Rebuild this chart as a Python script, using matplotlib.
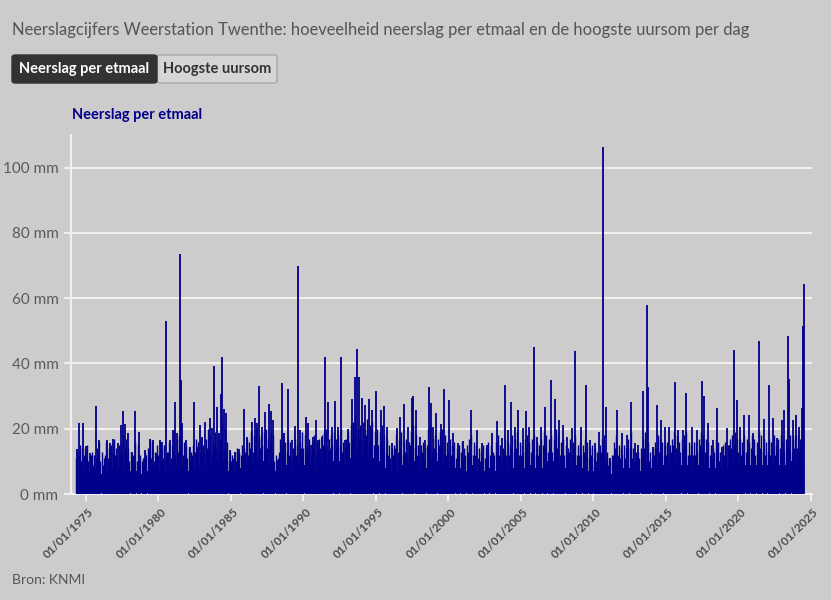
import numpy as np
import matplotlib
matplotlib.use("Agg")
import matplotlib.pyplot as plt
import matplotlib.dates as mdates
import matplotlib.transforms as mtransforms
from matplotlib.patches import FancyBboxPatch
from datetime import datetime, timedelta

# ---------------- data ----------------
# notable daily totals (decimal year, mm)
spike_years = [1974.40, 1974.54, 1974.77, 1975.00, 1975.28, 1975.67, 1975.92, 1976.43, 1976.66, 1976.89,
               1977.23, 1977.41, 1977.57, 1977.71, 1977.87, 1978.15, 1978.38, 1978.68, 1979.07, 1979.41,
               1979.64, 1979.87, 1980.10, 1980.22, 1980.52, 1980.79, 1981.02, 1981.16, 1981.30, 1981.48,
               1981.55, 1981.60, 1981.90, 1982.17, 1982.45, 1982.68, 1982.84, 1982.98, 1983.23, 1983.53,
               1983.67, 1983.85, 1984.01, 1984.15, 1984.31, 1984.38, 1984.52, 1984.66, 1984.93, 1985.28,
               1985.55, 1985.92, 1986.08, 1986.43, 1986.66, 1986.82, 1986.95, 1987.12, 1987.32, 1987.60,
               1987.76, 1987.92, 1988.15, 1988.50, 1988.68, 1988.95, 1989.18, 1989.41, 1989.62, 1989.76,
               1990.15, 1990.33, 1990.49, 1990.68, 1990.86, 1991.02, 1991.28, 1991.46, 1991.71, 1991.94,
               1992.17, 1992.40, 1992.59, 1992.86, 1993.09, 1993.37, 1993.55, 1993.71, 1993.80, 1994.01,
               1994.24, 1994.49, 1994.70, 1995.00, 1995.34, 1995.55, 1995.78, 1996.08, 1996.43, 1996.66,
               1996.95, 1997.23, 1997.46, 1997.57, 1997.76, 1998.03, 1998.38, 1998.68, 1998.77, 1998.95,
               1999.14, 1999.46, 1999.69, 2000.06, 2000.33, 2000.68, 2001.02, 2001.57, 2001.94, 2002.29,
               2002.63, 2002.98, 2003.32, 2003.67, 2003.92, 2004.13, 2004.33, 2004.59, 2004.82, 2005.12,
               2005.34, 2005.53, 2005.90, 2006.13, 2006.40, 2006.66, 2007.05, 2007.34, 2007.64, 2007.92,
               2008.19, 2008.49, 2008.72, 2009.14, 2009.48, 2009.76, 2010.10, 2010.40, 2010.63, 2010.84,
               2011.14, 2011.60, 2011.94, 2012.29, 2012.56, 2012.86, 2013.09, 2013.44, 2013.67, 2013.78,
               2014.13, 2014.36, 2014.63, 2014.93, 2015.23, 2015.60, 2015.85, 2016.19, 2016.38, 2016.79,
               2017.12, 2017.50, 2017.64, 2017.92, 2018.26, 2018.54, 2018.84, 2019.19, 2019.41, 2019.71,
               2019.87, 2020.10, 2020.38, 2020.70, 2021.02, 2021.44, 2021.76, 2022.08, 2022.40, 2022.68,
               2022.98, 2023.16, 2023.43, 2023.50, 2023.74, 2023.94, 2024.20, 2024.36, 2024.47, 2024.52]
spike_mm = [13.7, 21.9, 21.9, 14.7, 12.5, 27.1, 16.4, 16.4, 15.5, 16.8,
            15.5, 21.2, 25.5, 21.4, 18.6, 13.0, 25.5, 18.9, 13.5, 16.9,
            16.4, 12.5, 16.6, 15.8, 53.0, 16.4, 19.6, 28.2, 18.8, 73.5,
            35.0, 21.7, 16.6, 14.5, 28.2, 14.5, 21.2, 17.6, 22.2, 23.2,
            20.3, 39.3, 26.8, 18.6, 30.7, 42.1, 26.1, 24.8, 13.5, 13.0,
            13.7, 26.1, 17.6, 22.0, 23.2, 21.7, 33.1, 20.6, 25.0, 27.6,
            25.5, 22.7, 10.4, 34.0, 18.6, 32.1, 16.6, 20.8, 70.0, 19.6,
            23.5, 21.7, 15.0, 17.6, 22.7, 16.6, 17.4, 41.9, 28.2, 20.4,
            28.4, 20.6, 42.1, 16.6, 19.8, 29.0, 35.8, 44.4, 36.0, 29.5,
            27.3, 29.1, 25.8, 31.6, 25.8, 27.0, 20.6, 15.5, 20.1, 23.5,
            27.6, 20.6, 29.4, 30.1, 25.8, 17.6, 16.6, 32.9, 28.0, 20.6,
            24.8, 21.5, 32.1, 28.8, 18.6, 15.5, 16.1, 25.8, 19.6, 15.5,
            15.0, 18.8, 22.5, 17.1, 33.5, 19.6, 28.3, 20.6, 25.8, 20.1,
            25.5, 20.6, 45.0, 17.6, 20.6, 26.7, 35.0, 29.1, 22.7, 21.0,
            17.6, 20.3, 43.8, 20.6, 33.3, 16.6, 15.5, 19.1, 106.3, 26.7,
            10.9, 25.8, 18.6, 18.1, 28.1, 15.5, 15.0, 31.7, 58.0, 32.9,
            14.5, 27.3, 22.7, 20.6, 20.6, 34.3, 19.6, 19.6, 30.9, 20.4,
            19.6, 34.5, 30.0, 21.7, 16.6, 26.5, 14.5, 20.3, 15.0, 44.0,
            28.8, 20.6, 24.2, 24.2, 18.6, 47.0, 22.9, 33.3, 23.2, 17.1,
            22.7, 25.8, 48.3, 35.1, 22.7, 24.1, 20.6, 26.5, 51.5, 64.2]

# typical highest day per two-month period (Jan-Feb ... Nov-Dec), mm
bimonthly_years = list(range(1974, 2025))
bimonthly_mm = [
    [0, 0, 13, 15, 14, 14], [15, 12, 13, 12, 14, 16], [13, 11, 16, 14, 15, 17],
    [14, 15, 16, 18, 17, 14], [13, 12, 16, 15, 12, 11], [13, 14, 17, 16, 13, 15],
    [16, 14, 15, 13, 16, 15], [19, 17, 18, 21, 16, 15], [14, 13, 15, 17, 16, 17],
    [15, 17, 20, 18, 16, 19], [18, 17, 22, 20, 16, 13], [12, 13, 14, 13, 15, 14],
    [17, 16, 19, 18, 20, 17], [18, 19, 20, 17, 19, 18], [12, 11, 17, 18, 16, 17],
    [16, 14, 17, 15, 16, 19], [18, 15, 17, 16, 18, 16], [17, 18, 19, 20, 17, 18],
    [19, 17, 18, 20, 16, 17], [19, 21, 22, 24, 20, 21], [22, 20, 23, 21, 22, 19],
    [20, 19, 21, 18, 17, 15], [14, 15, 18, 17, 19, 16], [17, 16, 19, 21, 18, 15],
    [15, 16, 14, 20, 21, 17], [18, 17, 19, 20, 18, 16], [17, 15, 16, 14, 15, 16],
    [14, 15, 17, 18, 16, 15], [14, 13, 15, 14, 16, 15], [13, 16, 18, 15, 14, 17],
    [16, 15, 18, 17, 19, 16], [15, 17, 18, 16, 17, 18], [16, 15, 17, 19, 18, 17],
    [18, 17, 20, 18, 16, 17], [15, 14, 17, 16, 18, 15], [16, 15, 17, 16, 14, 15],
    [14, 13, 15, 17, 18, 13], [11, 12, 16, 18, 15, 14], [15, 14, 17, 19, 14, 13],
    [13, 14, 17, 19, 16, 13], [14, 16, 18, 17, 16, 15], [16, 15, 17, 19, 18, 16],
    [17, 18, 19, 16, 15, 16], [16, 17, 19, 18, 17, 16], [15, 14, 17, 16, 13, 15],
    [16, 15, 17, 18, 19, 17], [17, 16, 18, 17, 16, 18], [17, 16, 19, 18, 17, 16],
    [17, 16, 18, 15, 17, 18], [16, 17, 19, 18, 17, 18], [18, 17, 19, 0, 0, 0]]

# second-highest level per two-month period, mm
second_mm = [
    [0, 0, 11, 12, 10, 12], [11, 10, 12, 9, 11, 12], [10, 9, 12, 11, 10, 13],
    [12, 11, 13, 12, 14, 11], [10, 11, 12, 10, 9, 10], [11, 12, 13, 11, 10, 12],
    [12, 10, 11, 12, 13, 11], [14, 12, 13, 15, 12, 11], [11, 10, 12, 13, 12, 13],
    [12, 13, 14, 13, 12, 14], [14, 13, 15, 14, 12, 10], [10, 11, 10, 11, 12, 11],
    [13, 12, 14, 13, 15, 13], [14, 15, 13, 14, 15, 13], [10, 9, 13, 14, 12, 13],
    [12, 11, 13, 12, 13, 14], [14, 12, 13, 12, 14, 12], [13, 14, 15, 14, 13, 14],
    [15, 13, 14, 15, 13, 14], [15, 16, 17, 18, 16, 17], [17, 16, 18, 16, 17, 15],
    [16, 15, 16, 14, 13, 12], [11, 12, 14, 13, 14, 12], [13, 12, 15, 16, 14, 12],
    [12, 13, 11, 15, 16, 13], [14, 13, 15, 14, 13, 12], [13, 12, 12, 11, 12, 13],
    [11, 12, 13, 14, 12, 12], [11, 10, 12, 11, 12, 12], [10, 12, 13, 12, 11, 13],
    [12, 12, 14, 13, 14, 12], [12, 13, 14, 12, 13, 14], [12, 12, 13, 15, 14, 13],
    [14, 13, 15, 14, 12, 13], [12, 11, 13, 12, 14, 12], [12, 12, 13, 12, 11, 12],
    [11, 10, 12, 13, 14, 11], [9, 10, 12, 14, 12, 11], [12, 11, 13, 14, 11, 10],
    [10, 11, 13, 14, 12, 10], [11, 12, 14, 13, 12, 12], [12, 12, 13, 15, 14, 12],
    [13, 14, 15, 12, 12, 12], [12, 13, 15, 14, 13, 12], [12, 11, 13, 12, 10, 12],
    [12, 12, 13, 14, 15, 13], [13, 12, 14, 13, 12, 14], [13, 12, 15, 14, 13, 12],
    [13, 12, 14, 12, 13, 14], [12, 13, 15, 14, 13, 14], [14, 13, 15, 0, 0, 0]]

# level of the solid core per half year (H1, H2), mm
base_mm = [
    [0, 8], [7, 8], [6, 8], [7, 8], [7, 6], [7, 8], [7, 8], [9, 8], [7, 8], [8, 9],
    [10, 7], [7, 8], [9, 10], [10, 9], [7, 9], [8, 9], [9, 8], [9, 10], [10, 9], [11, 12],
    [12, 11], [10, 8], [7, 9], [9, 10], [8, 10], [10, 9], [8, 8], [7, 9], [7, 8], [7, 8],
    [8, 9], [8, 9], [8, 10], [10, 9], [8, 9], [8, 7], [7, 9], [6, 9], [8, 8], [7, 9],
    [8, 9], [8, 10], [9, 8], [9, 9], [8, 7], [8, 10], [9, 9], [9, 9], [9, 9], [9, 10],
    [10, 0]]
data_start = 1974.38
data_end = 2024.53

y_ticks = [0, 20, 40, 60, 80, 100]
x_tick_years = [1975, 1980, 1985, 1990, 1995, 2000, 2005, 2010, 2015, 2020, 2025]

# ---------------- helpers ----------------
def to_date(y):
    yr = int(np.floor(y))
    return datetime(yr, 1, 1) + timedelta(days=(y - yr) * 365.25)

BG = "#cdcbcb"
BLUE = "#00008b"
GRID = "#f0f0f0"
plt.rcParams["font.family"] = ["Lato", "DejaVu Sans"]

fig = plt.figure(figsize=(8.31, 6.0), dpi=100, facecolor=BG)
ax = fig.add_axes([71 / 831, 1 - 494 / 600, (812 - 71) / 831, (494 - 135) / 600])
ax.set_facecolor(BG)

# solid core
bx, by = [], []
for i, yr in enumerate(bimonthly_years):
    for h in range(2):
        start = yr + 0.5 * h
        v = base_mm[i][h]
        if v <= 0:
            continue
        s = max(start, data_start)
        e = min(start + 0.5, data_end)
        bx += [to_date(s), to_date(e)]
        by += [v, v]
bx = mdates.date2num(bx)
ax.fill_between(bx, 0, by, color=BLUE, lw=0, zorder=2)

# bimonthly lines (highest and second highest)
mx, mv, sx, sv = [], [], [], []
for i, yr in enumerate(bimonthly_years):
    for k in range(6):
        v = bimonthly_mm[i][k]
        if v > 0:
            mx.append(to_date(yr + (k + 0.5) / 6))
            mv.append(v)
        w = second_mm[i][k]
        if w > 0:
            sx.append(to_date(yr + (k + 0.02) / 6))
            sv.append(w)
ax.vlines(sx, 0, sv, color=BLUE, lw=1.0, zorder=3)
ax.vlines(mx, 0, mv, color=BLUE, lw=1.0, zorder=3)

# spikes
ax.vlines([to_date(y) for y in spike_years], 0, spike_mm, color=BLUE, lw=1.3, zorder=4)

ax.set_xlim(to_date(1973.97), to_date(2025.07))
ax.set_ylim(0, 110)
ax.set_yticks(y_ticks)
ax.set_yticklabels([f"{t} mm" for t in y_ticks], color="#5a5a5a", fontsize=11)
ax.grid(axis="y", color=GRID, lw=1.5, zorder=1)
ax.set_axisbelow(True)

tick_dates = [datetime(y, 1, 1) for y in x_tick_years]
ax.set_xticks(tick_dates)
ax.set_xticklabels([])
lab_tr = mtransforms.offset_copy(ax.get_xaxis_transform(), fig=fig, x=6, y=-16, units="dots")
for d in tick_dates:
    ax.text(d, 0, d.strftime("%d/%m/%Y"), transform=lab_tr, rotation=45,
            rotation_mode="anchor", ha="right", va="center", fontsize=8.5,
            fontweight="bold", color="#4d4d4d", clip_on=False)

for side in ["top", "right"]:
    ax.spines[side].set_visible(False)
for side in ["left", "bottom"]:
    ax.spines[side].set_color(GRID)
    ax.spines[side].set_linewidth(1.5)
ax.tick_params(axis="both", color=GRID, width=1.5, length=5)
ax.tick_params(axis="y", pad=4)

# title & controls
fig.text(12 / 831, 1 - 30 / 600, "Neerslagcijfers Weerstation Twenthe: hoeveelheid neerslag per etmaal en de hoogste uursom per dag",
         fontsize=11.9, color="#555555", ha="left", va="center")

b1 = FancyBboxPatch((12 / 831, 1 - 83 / 600), 145 / 831, 28 / 600,
                    boxstyle="round,pad=0,rounding_size=0.004", transform=fig.transFigure,
                    facecolor="#333333", edgecolor="#333333", lw=1)
b2 = FancyBboxPatch((157 / 831, 1 - 83 / 600), 120 / 831, 28 / 600,
                    boxstyle="round,pad=0,rounding_size=0.004", transform=fig.transFigure,
                    facecolor="#d6d4d4", edgecolor="#a9a9a9", lw=1)
fig.patches.extend([b2, b1])
fig.text(84.5 / 831, 1 - 69 / 600, "Neerslag per etmaal", fontsize=10.5, fontweight="bold",
         color="white", ha="center", va="center")
fig.text(217 / 831, 1 - 69 / 600, "Hoogste uursom", fontsize=10.5, fontweight="bold",
         color="#333333", ha="center", va="center")

fig.text(72 / 831, 1 - 115 / 600, "Neerslag per etmaal", fontsize=10.5, fontweight="bold",
         color=BLUE, ha="left", va="center")
fig.text(12 / 831, 1 - 580 / 600, "Bron: KNMI", fontsize=10, color="#555555", ha="left", va="center")

fig.savefig("out.png", dpi=100, facecolor=BG)
